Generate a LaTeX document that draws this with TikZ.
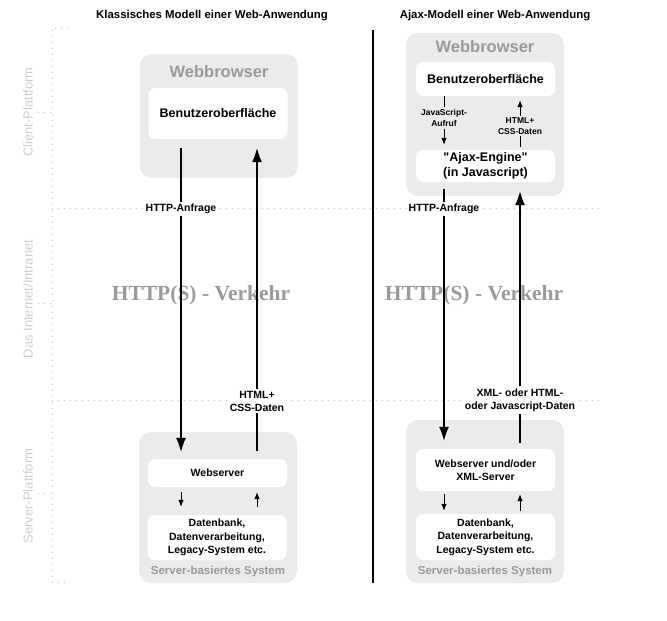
\documentclass[tikz,border=0pt]{standalone}
\usepackage{fontspec}
\setmainfont{Liberation Sans}[Ligatures=TeXOff]
\newfontfamily\verkehrfont{Liberation Serif}
\usetikzlibrary{arrows.meta}

\definecolor{boxgray}{HTML}{EBEBEB}
\definecolor{labelgray}{HTML}{9A9A9A}
\definecolor{sidegray}{HTML}{CDCDCD}
\definecolor{dotgray}{HTML}{BDBDBD}

\tikzset{
  title/.style={font=\fontsize{11.4}{13}\selectfont\bfseries},
  sidelabel/.style={rotate=90, text=sidegray, font=\fontsize{13}{15}\selectfont},
  dotline/.style={dotgray, line width=0.8pt, dash pattern=on 1pt off 5pt},
  divider/.style={line width=2.5pt},
  outerbox/.style={fill=boxgray, rounded corners=12pt, minimum width=158pt, inner sep=0pt},
  innerbox/.style={fill=white, rounded corners=7pt, minimum width=139pt, inner sep=0pt,
    align=center, font=\fontsize{10.5}{13.5}\selectfont\bfseries},
  uibox/.style={innerbox, font=\fontsize{12.5}{15}\selectfont\bfseries},
  boxtitle/.style={text=labelgray, font=\fontsize{16.5}{18}\selectfont\bfseries},
  servertitle/.style={text=labelgray, font=\fontsize{11.5}{13}\selectfont\bfseries},
  flowlabel/.style={fill=white, align=center, inner sep=2pt,
    font=\fontsize{10.5}{13}\selectfont\bfseries},
  smalllabel/.style={align=center, inner sep=2pt,
    font=\fontsize{8.5}{10.5}\selectfont\bfseries},
  verkehr/.style={text=labelgray, font=\verkehrfont\fontsize{21.5}{24}\selectfont\bfseries},
  mainline/.style={line width=1.2pt},
  mainarrow/.style={mainline, -{Latex[length=14pt,width=10pt]}},
  smallarrow/.style={line width=0.8pt, -{Latex[length=7pt,width=5.5pt]}},
}

\begin{document}
\begin{tikzpicture}[x=1pt,y=-1pt]
\useasboundingbox (0,0) rectangle (667,621);

% Ueberschriften
\node[title] (ktitle) at (212,16) {Klassisches Modell einer Web-Anwendung};
\node[title] (atitle) at (495,16) {Ajax-Modell einer Web-Anwendung};

% Ebenen
\draw[dotline] (68,28) -- (52,28) -- (52,582) -- (68,582);
\draw[dotline] (52,208) -- (600,208);
\draw[dotline] (52,400) -- (600,400);
\draw[dotline] (38,112) -- (52,112);
\draw[dotline] (38,303) -- (52,303);
\draw[dotline] (38,493) -- (52,493);

\node[sidelabel] (client) at (28,112) {Client-Plattform};
\node[sidelabel] (internet) at (28,299) {Das Internet/Intranet};
\node[sidelabel] (server) at (28,496) {Server-Plattform};

\draw[divider] (373,30) -- (373,583);

\node[verkehr] (lverkehr) at (201,295) {HTTP(S) - Verkehr};
\node[verkehr] (rverkehr) at (474,295) {HTTP(S) - Verkehr};

% klassisches Modell
\node[outerbox, minimum height=124pt] (lbrowser) at (219,116) {};
\node[boxtitle] (lbrowsertitle) at (219,72) {Webbrowser};
\node[uibox, minimum height=51pt] (lui) at (218,113.5) {Benutzeroberfläche};

\node[outerbox, minimum height=151pt] (lserver) at (218,507.5) {};
\node[innerbox, minimum height=28pt] (lws) at (217.5,473) {Webserver};
\node[innerbox, minimum height=45pt] (ldb) at (217,537.5) {Datenbank,\\Datenverarbeitung,\\Legacy-System etc.};
\node[servertitle] (lservertitle) at (218,572) {Server-basiertes System};

\node[flowlabel] (lreq) at (181,209) {HTTP-Anfrage};
\node[flowlabel] (lresp) at (257,401) {HTML+\\CSS-Daten};

\draw[mainline, shorten <=9pt] (lui.south -| lreq) -- (lreq.north);
\draw[mainarrow, shorten >=7pt] (lreq.south) -- (lws.north -| lreq);
\draw[mainline, shorten <=8pt] (lws.north -| lresp) -- (lresp.south);
\draw[mainarrow, shorten >=9pt] (lresp.north) -- (lui.south -| lresp);

\draw[smallarrow, shorten <=5pt, shorten >=8pt] (lws.south -| lreq) -- (ldb.north -| lreq);
\draw[smallarrow, shorten <=8pt, shorten >=5pt] (ldb.north -| lresp) -- (lws.south -| lresp);

% Ajax-Modell
\node[outerbox, minimum height=163pt] (rbrowser) at (485,114.5) {};
\node[boxtitle] (rbrowsertitle) at (485,47) {Webbrowser};
\node[uibox, minimum height=34pt] (rui) at (485.5,79) {Benutzeroberfläche};
\node[uibox, minimum height=32pt] (rengine) at (485.5,166) {"Ajax-Engine"\\(in Javascript)};

\node[smalllabel] (rcall) at (444,118) {JavaScript-\\Aufruf};
\node[smalllabel] (rupdate) at (520,126) {HTML+\\CSS-Daten};

\draw[line width=0.8pt] (rui.south -| rcall) -- (rcall.north);
\draw[smallarrow, shorten >=5pt] (rcall.south) -- (rengine.north -| rcall);
\draw[line width=0.8pt, shorten <=3pt] (rengine.north -| rupdate) -- (rupdate.south);
\draw[smallarrow, shorten >=4pt] (rupdate.north) -- (rui.south -| rupdate);

\node[outerbox, minimum height=163pt] (rserver) at (485,501.5) {};
\node[innerbox, minimum height=42pt] (rws) at (485.5,470) {Webserver und/oder\\XML-Server};
\node[innerbox, minimum height=46pt] (rdb) at (485.5,537) {Datenbank,\\Datenverarbeitung,\\Legacy-System etc.};
\node[servertitle] (rservertitle) at (485,572) {Server-basiertes System};

\node[flowlabel] (rreq) at (444,209) {HTTP-Anfrage};
\node[flowlabel] (rresp) at (520,400) {XML- oder HTML-\\oder Javascript-Daten};

\draw[mainline, shorten <=7pt] (rengine.south -| rreq) -- (rreq.north);
\draw[mainarrow, shorten >=8pt] (rreq.south) -- (rws.north -| rreq);
\draw[mainline, shorten <=6pt] (rws.north -| rresp) -- (rresp.south);
\draw[mainarrow, shorten >=9pt] (rresp.north) -- (rengine.south -| rresp);

\draw[smallarrow, shorten <=3pt, shorten >=3pt] (rws.south -| rreq) -- (rdb.north -| rreq);
\draw[smallarrow, shorten <=3pt, shorten >=3pt] (rdb.north -| rresp) -- (rws.south -| rresp);
\end{tikzpicture}
\end{document}
